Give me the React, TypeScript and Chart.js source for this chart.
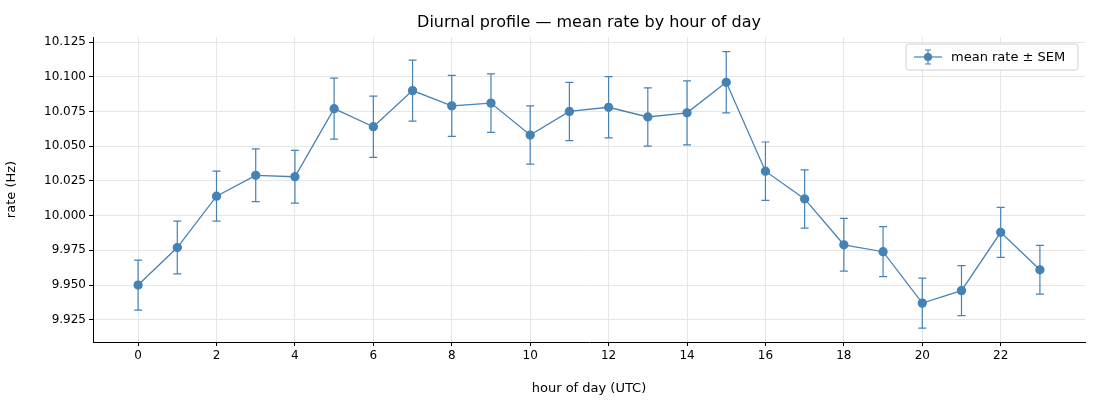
import React, { useEffect, useRef } from "react";
import { Chart, registerables } from "chart.js";
Chart.register(...registerables);

const hours = [0,1,2,3,4,5,6,7,8,9,10,11,12,13,14,15,16,17,18,19,20,21,22,23];
const meanRate = [9.950,9.977,10.014,10.029,10.028,10.077,10.064,10.090,10.079,10.081,10.058,10.075,10.078,10.071,10.074,10.096,10.032,10.012,9.979,9.974,9.937,9.946,9.988,9.961];
const sem = [0.018,0.019,0.018,0.019,0.019,0.022,0.022,0.022,0.022,0.021,0.021,0.021,0.022,0.021,0.023,0.022,0.021,0.021,0.019,0.018,0.018,0.018,0.018,0.0175];
const xTicks = [0,2,4,6,8,10,12,14,16,18,20,22];
const yTicks = [9.925,9.95,9.975,10.0,10.025,10.05,10.075,10.1,10.125];

const COLOR = "#4682b4";
const FONT = "'DejaVu Sans', sans-serif";

export default function App() {
  const ref = useRef<HTMLCanvasElement>(null);
  useEffect(() => {
    document.body.style.margin = "0";
    const errPlugin = {
      id: "err",
      afterDatasetsDraw(chart: any) {
        const { ctx, scales } = chart;
        ctx.save();
        ctx.strokeStyle = COLOR;
        ctx.lineWidth = 1.2;
        hours.forEach((h, i) => {
          const x = scales.x.getPixelForValue(h);
          const y1 = scales.y.getPixelForValue(meanRate[i] + sem[i]);
          const y2 = scales.y.getPixelForValue(meanRate[i] - sem[i]);
          ctx.beginPath();
          ctx.moveTo(x, y1); ctx.lineTo(x, y2);
          ctx.moveTo(x - 4, y1); ctx.lineTo(x + 4, y1);
          ctx.moveTo(x - 4, y2); ctx.lineTo(x + 4, y2);
          ctx.stroke();
        });
        ctx.restore();
      },
      afterDraw(chart: any) {
        const { ctx, chartArea } = chart;
        ctx.save();
        ctx.fillStyle = "#000";
        ctx.font = `16px ${FONT}`;
        ctx.textAlign = "center";
        ctx.textBaseline = "middle";
        ctx.fillText("Diurnal profile — mean rate by hour of day", (chartArea.left + chartArea.right) / 2, 23);
        // legend
        const bx = 906, by = 44, bw = 172, bh = 26;
        ctx.fillStyle = "rgba(255,255,255,0.85)";
        ctx.strokeStyle = "#d0d0d0";
        ctx.lineWidth = 1;
        ctx.beginPath();
        (ctx as any).roundRect(bx, by, bw, bh, 3);
        ctx.fill(); ctx.stroke();
        const cy = by + bh / 2;
        ctx.strokeStyle = COLOR; ctx.fillStyle = COLOR; ctx.lineWidth = 1.2;
        ctx.beginPath(); ctx.moveTo(914, cy); ctx.lineTo(942, cy); ctx.stroke();
        ctx.beginPath(); ctx.moveTo(928, cy - 7); ctx.lineTo(928, cy + 7);
        ctx.moveTo(925, cy - 7); ctx.lineTo(931, cy - 7);
        ctx.moveTo(925, cy + 7); ctx.lineTo(931, cy + 7); ctx.stroke();
        ctx.beginPath(); ctx.arc(928, cy, 4, 0, Math.PI * 2); ctx.fill();
        ctx.fillStyle = "#000";
        ctx.font = `13px ${FONT}`;
        ctx.textAlign = "left";
        ctx.fillText("mean rate ± SEM", 951, cy + 1);
        ctx.restore();
      },
    };
    const chart = new Chart(ref.current!, {
      type: "line",
      data: {
        datasets: [{
          data: hours.map((h, i) => ({ x: h, y: meanRate[i] })),
          borderColor: COLOR,
          backgroundColor: COLOR,
          borderWidth: 1.3,
          pointRadius: 4,
          pointHoverRadius: 4,
          tension: 0,
        }],
      },
      options: {
        animation: false,
        responsive: false,
        layout: { padding: { top: 37, right: 15, left: 0, bottom: 0 } },
        plugins: { legend: { display: false }, title: { display: false }, tooltip: { enabled: false } },
        scales: {
          x: {
            type: "linear", min: -1.15, max: 24.15,
            afterBuildTicks: (s: any) => { s.ticks = xTicks.map(v => ({ value: v })); },
            afterFit: (s: any) => { s.height = 58; },
            grid: { color: "#e6e6e6", tickColor: "#000", tickLength: 4 },
            border: { color: "#000" },
            ticks: { color: "#000", font: { family: FONT, size: 12 }, maxRotation: 0, padding: 3 },
            title: { display: true, text: "hour of day (UTC)", color: "#000", font: { family: FONT, size: 13 }, padding: { top: 2 } },
          },
          y: {
            min: 9.909, max: 10.1286,
            afterBuildTicks: (s: any) => { s.ticks = yTicks.map(v => ({ value: v })); },
            afterFit: (s: any) => { s.width = 93; },
            grid: { color: "#e6e6e6", tickColor: "#000", tickLength: 4 },
            border: { color: "#000" },
            ticks: { color: "#000", font: { family: FONT, size: 12 }, padding: 3, callback: (v: any) => Number(v).toFixed(3) },
            title: { display: true, text: "rate (Hz)", color: "#000", font: { family: FONT, size: 13 } },
          },
        },
      },
      plugins: [errPlugin],
    });
    return () => chart.destroy();
  }, []);
  return <canvas ref={ref} width={1100} height={400} style={{ display: "block" }} />;
}
